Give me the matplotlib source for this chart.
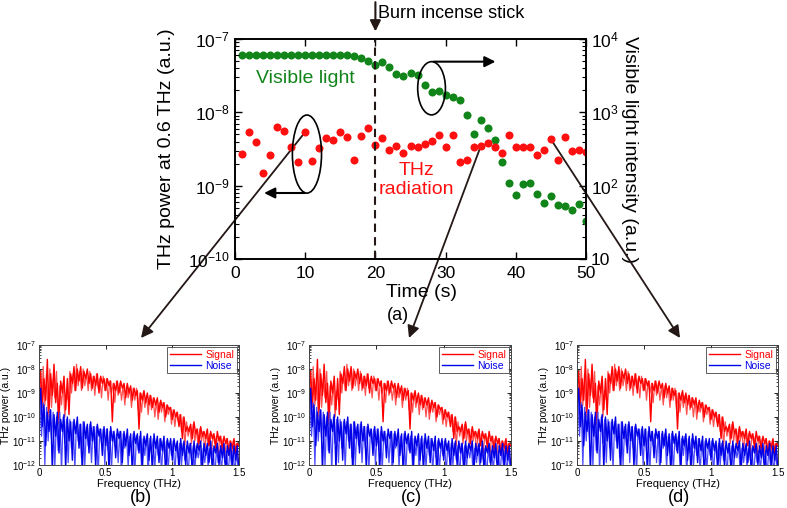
import numpy as np
import matplotlib.pyplot as plt
from matplotlib.patches import Ellipse, ConnectionPatch
from matplotlib.ticker import LogLocator, NullFormatter, FuncFormatter, FixedLocator

plt.rcParams['font.family'] = 'Liberation Sans'
plt.rcParams['mathtext.fontset'] = 'custom'
plt.rcParams['mathtext.rm'] = 'Liberation Sans'
plt.rcParams['mathtext.it'] = 'Liberation Sans:italic'
plt.rcParams['mathtext.bf'] = 'Liberation Sans:bold'

# ---- data (a) ----
time = np.arange(1, 51)
thz = [2.70e-9, 5.34e-9, 3.90e-9, 1.49e-9, 2.62e-9, 6.31e-9, 5.51e-9, 3.40e-9, 2.12e-9, 5.39e-9,
       2.17e-9, 3.26e-9, 4.42e-9, 4.24e-9, 5.39e-9, 4.66e-9, 2.24e-9, 4.71e-9, 6.05e-9, 3.59e-9,
       4.47e-9, 3.06e-9, 3.47e-9, 2.82e-9, 3.47e-9, 3.37e-9, 3.70e-9, 4.02e-9, 4.86e-9, 3.37e-9,
       4.96e-9, 2.12e-9, 2.22e-9, 3.40e-9, 3.44e-9, 3.86e-9, 3.37e-9, 2.79e-9, 4.91e-9, 3.37e-9,
       3.37e-9, 3.37e-9, 2.65e-9, 3.06e-9, 4.29e-9, 2.24e-9, 4.61e-9, 2.97e-9, 3.03e-9, 2.85e-9]
vis = [6110] * 16 + [5800, 5510, 4960, 4370, 4810, 4110, 3330, 3100, 3440, 3200,
                     2340, 1910, 1950, 1740, 1640, 1470, 929, 501, 786, 611,
                     415, 208, 110, 73.8, 106, 108, 77.8, 58.6, 71.6, 53.9,
                     53.4, 46.1, 56.8, 33.3]

# ---- spectra (b)-(d), log10 of power ----
freq = np.linspace(0, 1.5, 121)
freq_mid = freq[:-1] + 0.00625
sig_exp = [-8.9, -8.1, -9.6, -8.4, -9.3, -7.6, -9.8, -8.2, -9.1, -7.8,
           -9.4, -8.6, -10.1, -8.5, -9.0, -8.3, -9.7, -8.4, -9.9, -8.2,
           -8.6, -7.9, -8.9, -8.0, -8.5, -7.9, -8.8, -8.1, -8.4, -8.0,
           -8.6, -8.2, -8.8, -8.3, -8.7, -8.2, -9.0, -8.3, -8.6, -8.4,
           -8.9, -8.4, -8.7, -8.5, -10.2, -8.6, -8.9, -8.5, -9.0, -8.5,
           -8.8, -8.6, -9.2, -8.6, -9.0, -8.7, -9.3, -8.8, -9.1, -8.9,
           -10.5, -9.0, -9.3, -8.9, -9.4, -9.0, -9.5, -9.1, -9.6, -9.2,
           -9.5, -9.2, -9.8, -9.3, -9.6, -9.4, -10.0, -9.5, -9.7, -9.6,
           -10.1, -9.7, -10.0, -9.8, -10.4, -9.9, -10.9, -10.0, -10.6, -10.4,
           -10.6, -10.3, -10.9, -10.2, -10.7, -10.5, -11.1, -10.4, -10.8, -10.6,
           -10.9, -10.5, -11.2, -10.6, -10.9, -10.7, -11.3, -10.6, -11.0, -10.8,
           -11.4, -10.8, -11.1, -10.9, -11.6, -11.0, -11.3, -10.9, -11.5, -11.1, -11.2]
sig2_exp = [-8.3, -9.9, -7.9, -9.5, -8.2, -10.0, -8.0, -9.6, -8.4, -9.2,
            -8.1, -10.3, -8.7, -9.5, -8.6, -10.0, -8.9, -9.3, -8.1, -9.0,
            -8.2, -8.9, -7.8, -8.7, -8.1, -8.9, -8.0, -8.7, -8.2, -8.9,
            -8.1, -8.9, -8.3, -9.1, -8.2, -8.8, -8.4, -9.2, -8.3, -8.9,
            -8.4, -9.3, -8.5, -9.0, -8.6, -9.4, -8.5, -9.1, -8.6, -9.3,
            -8.7, -9.5, -8.7, -9.2, -8.8, -9.6, -8.8, -9.3, -8.8, -9.7,
            -9.0, -9.8, -9.0, -9.6, -9.1, -9.9, -9.1, -9.7, -9.2, -10.0,
            -9.3, -10.1, -9.4, -9.8, -9.4, -10.2, -9.5, -9.9, -9.6, -10.3,
            -9.7, -10.4, -9.8, -10.2, -9.9, -10.6, -10.0, -11.2, -10.2, -10.8,
            -10.4, -11.1, -10.3, -11.0, -10.5, -11.3, -10.5, -11.0, -10.6, -11.4,
            -10.6, -11.2, -10.7, -11.5, -10.7, -11.1, -10.8, -11.6, -10.8, -11.2,
            -10.9, -11.7, -10.9, -11.3, -11.0, -11.8, -11.0, -11.4, -11.1, -11.9]
noise_exp = [-9.6, -8.8, -10.4, -9.5, -11.2, -9.8, -10.6, -9.7, -12.3, -9.9,
             -10.8, -9.8, -11.5, -10.1, -10.6, -9.9, -12.2, -10.0, -11.0, -10.2,
             -11.8, -10.1, -10.7, -10.0, -11.3, -10.3, -12.4, -10.2, -10.9, -10.3,
             -11.5, -10.2, -11.0, -10.4, -12.1, -10.3, -10.8, -10.5, -11.6, -10.4,
             -11.2, -10.5, -12.3, -10.4, -11.0, -10.6, -11.7, -10.5, -10.9, -10.6,
             -11.9, -10.6, -11.2, -10.5, -11.6, -10.7, -12.4, -10.6, -11.1, -10.7,
             -11.5, -10.6, -12.2, -10.8, -11.2, -10.7, -11.8, -10.8, -12.3, -10.7,
             -11.3, -10.8, -11.9, -10.9, -11.4, -10.8, -12.5, -10.9, -11.3, -10.9,
             -11.8, -10.9, -11.4, -11.0, -12.3, -10.9, -11.6, -11.0, -12.0, -11.0,
             -11.5, -11.1, -12.4, -11.0, -11.7, -11.1, -11.4, -11.0, -12.2, -11.1,
             -11.6, -11.1, -11.9, -11.0, -12.3, -11.2, -11.5, -11.1, -12.0, -11.2,
             -11.7, -11.1, -12.4, -11.2, -11.6, -11.1, -12.1, -11.2, -11.8, -11.2, -12.3]
noise2_exp = [-9.0, -10.8, -9.4, -12.0, -9.6, -11.0, -9.7, -10.9, -9.8, -12.1,
              -10.0, -11.4, -9.8, -12.3, -10.0, -11.1, -10.1, -11.9, -10.1, -11.3,
              -10.2, -12.2, -10.2, -11.0, -10.3, -11.7, -10.2, -12.0, -10.4, -11.2,
              -10.3, -11.9, -10.4, -11.3, -10.4, -12.4, -10.5, -11.1, -10.5, -12.0,
              -10.5, -11.4, -10.6, -12.2, -10.6, -11.2, -10.7, -11.9, -10.6, -12.5,
              -10.7, -11.3, -10.7, -12.1, -10.8, -11.5, -10.7, -12.3, -10.8, -11.4,
              -10.8, -12.0, -10.9, -11.6, -10.8, -12.4, -10.9, -11.5, -10.9, -12.1,
              -11.0, -11.6, -10.9, -12.3, -11.0, -11.7, -11.0, -12.2, -11.1, -11.6,
              -11.0, -12.4, -11.1, -11.7, -11.1, -12.0, -11.1, -11.8, -11.2, -12.5,
              -11.1, -11.8, -11.2, -12.2, -11.2, -11.7, -11.2, -12.4, -11.3, -11.9,
              -11.2, -12.1, -11.3, -11.8, -11.3, -12.5, -11.3, -11.9, -11.4, -12.2,
              -11.3, -11.9, -11.4, -12.4, -11.4, -12.0, -11.4, -12.3, -11.5, -12.1]
signal = 10.0 ** np.array(sig_exp)
signal2 = 10.0 ** np.array(sig2_exp)
noise = 10.0 ** np.array(noise_exp)
noise2 = 10.0 ** np.array(noise2_exp)

panel_names = ['(b)', '(c)', '(d)']
panel_times = [10, 35, 45]

W, H = 787, 508
fig = plt.figure(figsize=(W / 100, H / 100), dpi=100)
fig.patch.set_facecolor('white')

def px(x0, y0, x1, y1):
    return [x0 / W, 1 - y1 / H, (x1 - x0) / W, (y1 - y0) / H]

def sci(v, pos):
    e = int(round(np.log10(v)))
    return r'$10^{%d}$' % e

def sci_r(v, pos):
    e = int(round(np.log10(v)))
    if e == 1:
        return '10'
    return r'$10^{%d}$' % e

# ---- main plot ----
ax = fig.add_axes(px(235, 39, 586, 259))
ax2 = ax.twinx()
ax.set_zorder(2)
ax.patch.set_visible(False)

ax.plot(time, thz, 'o', color='#ff1010', ms=5.8, mec='none')
ax2.plot(time, vis, 'o', color='#11841a', ms=5.8, mec='none')

ax.set_xlim(0, 50)
ax.set_yscale('log')
ax.set_ylim(1e-10, 1e-7)
ax2.set_yscale('log')
ax2.set_ylim(10, 1e4)
ax.set_xticks([0, 10, 20, 30, 40, 50])
ax.yaxis.set_major_locator(LogLocator(base=10))
ax.yaxis.set_minor_locator(LogLocator(base=10, subs=np.arange(2, 10)))
ax.yaxis.set_minor_formatter(NullFormatter())
ax.yaxis.set_major_formatter(FuncFormatter(sci))
ax2.yaxis.set_major_locator(LogLocator(base=10))
ax2.yaxis.set_minor_locator(LogLocator(base=10, subs=np.arange(2, 10)))
ax2.yaxis.set_minor_formatter(NullFormatter())
ax2.yaxis.set_major_formatter(FuncFormatter(sci_r))

ax.tick_params(axis='x', direction='in', top=True, length=5, width=1, labelsize=12.5, pad=5)
ax.tick_params(axis='y', which='major', direction='in', length=5, width=1, labelsize=12.5)
ax.tick_params(axis='y', which='minor', direction='in', length=3, width=0.8)
ax2.tick_params(axis='y', which='major', direction='in', length=5, width=1, labelsize=12.5)
ax2.tick_params(axis='y', which='minor', direction='in', length=3, width=0.8)
for a in (ax, ax2):
    for s in a.spines.values():
        s.set_linewidth(1.2)

ax.set_xlabel('Time (s)', fontsize=14)
ax.xaxis.set_label_coords(0.53, -0.115)
ax.set_ylabel('THz power at 0.6 THz (a.u.)', fontsize=14)
ax.yaxis.set_label_coords(-0.17, 0.5)
ax2.set_ylabel('Visible light intensity (a.u.)', fontsize=14, rotation=270, va='bottom')
ax2.yaxis.set_label_coords(1.10, 0.5)

ax.axvline(20, color='#231815', ls=(0, (4, 2.5)), lw=1.5)
ax.text(3, 2.85e-8, 'Visible light', color='#11841a', fontsize=14, va='center', ha='left')
ax.text(25.8, 1.2e-9, 'THz\nradiation', color='#ff1010', fontsize=14, va='center', ha='center',
        linespacing=1.15)

# ellipses + arrows pointing to axes
ax.add_patch(Ellipse((0.205, 0.477), 0.083, 0.355, transform=ax.transAxes, fill=False,
                     ec='k', lw=1.2, zorder=5))
ax.annotate('', xy=(0.075, 0.30), xycoords='axes fraction', xytext=(0.207, 0.30),
            textcoords='axes fraction',
            arrowprops=dict(arrowstyle='-|>', color='k', lw=1.5, mutation_scale=16))
ax.add_patch(Ellipse((0.56, 0.776), 0.079, 0.242, transform=ax.transAxes, fill=False,
                     ec='k', lw=1.2, zorder=5))
ax.annotate('', xy=(0.75, 0.897), xycoords='axes fraction', xytext=(0.558, 0.897),
            textcoords='axes fraction',
            arrowprops=dict(arrowstyle='-|>', color='k', lw=1.5, mutation_scale=16))

# burn incense arrow
ax.annotate('', xy=(20, 1.022), xycoords=('data', 'axes fraction'), xytext=(20, 1.18),
            textcoords=('data', 'axes fraction'), annotation_clip=False,
            arrowprops=dict(arrowstyle='-|>', color='#231815', lw=1.5, mutation_scale=16))
fig.text(378 / W, 1 - 13 / H, 'Burn incense stick', fontsize=13, ha='left', va='center')
fig.text(398 / W, 1 - 315 / H, '(a)', fontsize=13, ha='center', va='center')

# ---- spectra panels ----
boxes = [(39, 239), (309, 511), (577, 778)]
tips = [(141, 338), (409, 338), (680, 338)]
for (x0, x1), name, t, tip in zip(boxes, panel_names, panel_times, tips):
    sa = fig.add_axes(px(x0, 345, x1, 465))
    sa.plot(freq_mid, signal2, color='#ff5050', lw=0.9)
    sa.plot(freq, signal, color='#ff0000', lw=1.0, label='Signal')
    sa.plot(freq_mid, noise2, color='#4a4aff', lw=0.9)
    sa.plot(freq, noise, color='#0000e6', lw=1.0, label='Noise')
    sa.set_yscale('log')
    sa.set_xlim(0, 1.5)
    sa.set_ylim(1e-12, 1e-7)
    sa.xaxis.set_major_locator(FixedLocator([0, 0.5, 1, 1.5]))
    sa.xaxis.set_major_formatter(FuncFormatter(lambda v, p: '%g' % v))
    sa.yaxis.set_major_locator(LogLocator(base=10))
    sa.yaxis.set_minor_locator(LogLocator(base=10, subs=np.arange(2, 10)))
    sa.yaxis.set_minor_formatter(NullFormatter())
    sa.yaxis.set_major_formatter(FuncFormatter(sci))
    sa.tick_params(which='both', direction='in', top=True, right=True, labelsize=7, pad=2)
    sa.tick_params(which='major', length=3, width=0.6)
    sa.tick_params(which='minor', length=1.5, width=0.5)
    for s in sa.spines.values():
        s.set_linewidth(0.7)
        s.set_color('#444444')
    sa.set_xlabel('Frequency (THz)', fontsize=8, labelpad=1)
    sa.set_ylabel('THz power (a.u.)', fontsize=7.5, labelpad=1)
    leg = sa.legend(loc='upper right', fontsize=7.5, frameon=True, fancybox=False,
                    handlelength=3.0, borderpad=0.25, labelspacing=0.1, handletextpad=0.4,
                    borderaxespad=0.2)
    leg.get_frame().set_edgecolor('#333333')
    leg.get_frame().set_linewidth(0.7)
    for txt, c in zip(leg.get_texts(), ['#ff0000', '#0000e6']):
        txt.set_color(c)
    fig.text((x0 + x1) / 2 / W + 0.002, 1 - 498 / H, name, fontsize=13, ha='center', va='center')
    con = ConnectionPatch(xyA=(t, thz[t - 1]), coordsA='data', axesA=ax,
                          xyB=(tip[0] / W, 1 - tip[1] / H), coordsB=fig.transFigure,
                          arrowstyle='-|>', color='#231815', lw=1.3, mutation_scale=18)
    fig.add_artist(con)

fig.savefig('out.png', dpi=100)
